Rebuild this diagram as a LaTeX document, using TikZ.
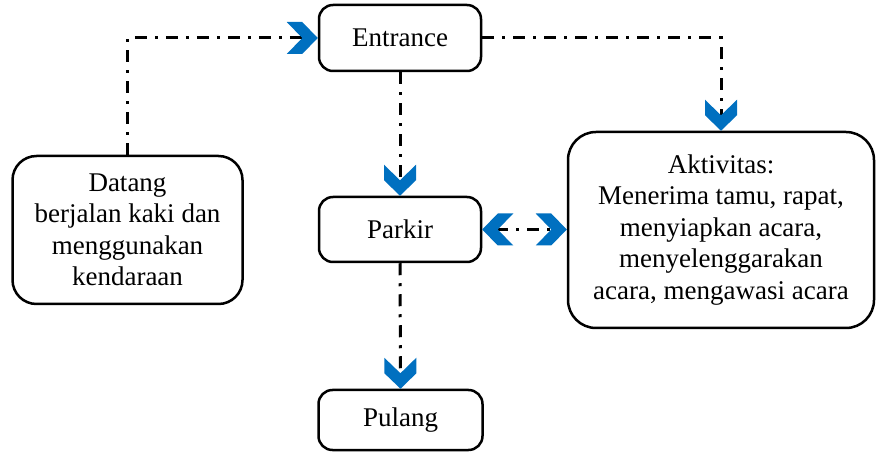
\documentclass[tikz,border=0pt]{standalone}
\usepackage{fontspec}
\setmainfont{Liberation Serif}
\usetikzlibrary{arrows.meta}

\definecolor{chevblue}{RGB}{0,112,192}

% Office-style chevron head: flat sides, notch at the back
\pgfdeclarearrow{
  name = Chevron,
  setup code = {
    \pgfarrowssettipend{0pt}
    \pgfarrowssetlineend{-14pt}
    \pgfarrowssetbackend{-31pt}
    \pgfarrowssetvisualbackend{-31pt}
    \pgfarrowshullpoint{0pt}{0pt}
    \pgfarrowsupperhullpoint{-15.5pt}{16pt}
    \pgfarrowsupperhullpoint{-31pt}{16pt}
  },
  drawing code = {
    \pgfpathmoveto{\pgfpointorigin}
    \pgfpathlineto{\pgfpoint{-15.5pt}{16pt}}
    \pgfpathlineto{\pgfpoint{-31pt}{16pt}}
    \pgfpathlineto{\pgfpoint{-15.5pt}{0pt}}
    \pgfpathlineto{\pgfpoint{-31pt}{-16pt}}
    \pgfpathlineto{\pgfpoint{-15.5pt}{-16pt}}
    \pgfpathclose
    \pgfusepathqfill
  }
}

\tikzset{
  box/.style={draw, line width=2.5pt, rounded corners=14pt, align=center,
    inner sep=0pt, font=\fontsize{27}{31.5}\selectfont},
  bigbox/.style={box, rounded corners=28pt},
  flow/.style={line width=3pt,
    dash pattern=on 12pt off 8pt on 3pt off 8pt},
  chev/.style={-{Chevron[color=chevblue]}},
  chevboth/.style={{Chevron[color=chevblue]}-{Chevron[color=chevblue]}},
}

\begin{document}
\begin{tikzpicture}[x=1pt, y=-1pt]
  \useasboundingbox (0,0) rectangle (876,454);

  \node[box, minimum width=162pt, minimum height=66pt] (ent) at (400,38) {Entrance};
  \node[box, minimum width=162pt, minimum height=65pt] (park) at (400,229.5) {Parkir};
  \node[box, minimum width=164pt, minimum height=60pt] (pul) at (400.5,420) {Pulang};
  \node[bigbox, rounded corners=24pt, minimum width=230pt, minimum height=148pt] (dat) at (127.5,230)
    {Datang\\berjalan kaki dan\\menggunakan\\kendaraan};
  \node[bigbox, minimum width=306pt, minimum height=196pt] (akt) at (721,230)
    {Aktivitas:\\Menerima tamu, rapat,\\menyiapkan acara,\\menyelenggarakan\\acara, mengawasi acara};

  \draw[flow, chev] (dat.north) |- (ent.west);
  \draw[flow, chev] (ent.east) -| (akt.north);
  \draw[flow, chev] (ent.south) -- (park.north);
  \draw[flow, chev] (park.south) -- (pul.north);
  \draw[flow, chevboth] (park.east) -- (park.east -| akt.west);
\end{tikzpicture}
\end{document}
